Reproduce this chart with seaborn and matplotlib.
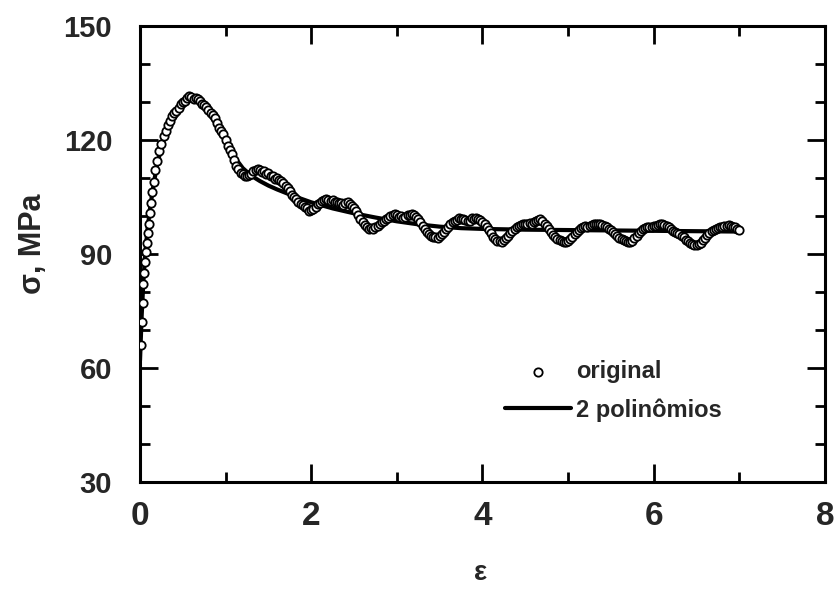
import matplotlib
matplotlib.use("Agg")
import matplotlib.pyplot as plt
from matplotlib.ticker import MultipleLocator
import seaborn as sns
import pandas as pd

# Flow curve: measured points (strain, stress in MPa)
strain_orig = [
    0.01, 0.02, 0.03, 0.04, 0.05, 0.06, 0.07, 0.08, 0.09, 0.10,
    0.115, 0.13, 0.145, 0.16, 0.18,
    0.200, 0.225, 0.250, 0.275, 0.300, 0.325, 0.350, 0.375, 0.400, 0.425,
    0.450, 0.475, 0.500, 0.525, 0.550, 0.575, 0.600, 0.625, 0.650, 0.675,
    0.700, 0.725, 0.750, 0.775, 0.800, 0.825, 0.850, 0.875, 0.900, 0.925,
    0.950, 0.975, 1.000, 1.025, 1.050, 1.075, 1.100, 1.125, 1.150, 1.175,
    1.200, 1.225, 1.250, 1.275, 1.300, 1.325, 1.350, 1.375, 1.400, 1.425,
    1.450, 1.475, 1.500, 1.525, 1.550, 1.575, 1.600, 1.625, 1.650, 1.675,
    1.700, 1.725, 1.750, 1.775, 1.800, 1.825, 1.850, 1.875, 1.900, 1.925,
    1.950, 1.975, 2.000, 2.025, 2.050, 2.075, 2.100, 2.125, 2.150, 2.175,
    2.200, 2.225, 2.250, 2.275, 2.300, 2.325, 2.350, 2.375, 2.400, 2.425,
    2.450, 2.475, 2.500, 2.525, 2.550, 2.575, 2.600, 2.625, 2.650, 2.675,
    2.700, 2.725, 2.750, 2.775, 2.800, 2.825, 2.850, 2.875, 2.900, 2.925,
    2.950, 2.975, 3.000, 3.025, 3.050, 3.075, 3.100, 3.125, 3.150, 3.175,
    3.200, 3.225, 3.250, 3.275, 3.300, 3.325, 3.350, 3.375, 3.400, 3.425,
    3.450, 3.475, 3.500, 3.525, 3.550, 3.575, 3.600, 3.625, 3.650, 3.675,
    3.700, 3.725, 3.750, 3.775, 3.800, 3.825, 3.850, 3.875, 3.900, 3.925,
    3.950, 3.975, 4.000, 4.025, 4.050, 4.075, 4.100, 4.125, 4.150, 4.175,
    4.200, 4.225, 4.250, 4.275, 4.300, 4.325, 4.350, 4.375, 4.400, 4.425,
    4.450, 4.475, 4.500, 4.525, 4.550, 4.575, 4.600, 4.625, 4.650, 4.675,
    4.700, 4.725, 4.750, 4.775, 4.800, 4.825, 4.850, 4.875, 4.900, 4.925,
    4.950, 4.975, 5.000, 5.025, 5.050, 5.075, 5.100, 5.125, 5.150, 5.175,
    5.200, 5.225, 5.250, 5.275, 5.300, 5.325, 5.350, 5.375, 5.400, 5.425,
    5.450, 5.475, 5.500, 5.525, 5.550, 5.575, 5.600, 5.625, 5.650, 5.675,
    5.700, 5.725, 5.750, 5.775, 5.800, 5.825, 5.850, 5.875, 5.900, 5.925,
    5.950, 5.975, 6.000, 6.025, 6.050, 6.075, 6.100, 6.125, 6.150, 6.175,
    6.200, 6.225, 6.250, 6.275, 6.300, 6.325, 6.350, 6.375, 6.400, 6.425,
    6.450, 6.475, 6.500, 6.525, 6.550, 6.575, 6.600, 6.625, 6.650, 6.675,
    6.700, 6.725, 6.750, 6.775, 6.800, 6.825, 6.850, 6.875, 6.900, 6.925,
    6.950, 6.975, 7.000,
]
stress_orig = [
    66.0, 72.0, 77.0, 82.0, 85.0, 88.0, 90.5, 93.0, 95.5, 98.0,
    100.8, 103.5, 106.3, 109.0, 112.0,
    114.5, 117.2, 119.0, 121.0, 122.5, 124.0, 125.0, 126.2, 127.0, 127.6,
    128.5, 129.5, 130.0, 130.3, 131.0, 131.5, 131.3, 130.9, 131.0, 130.8,
    130.3, 129.5, 129.2, 128.8, 128.0, 127.0, 126.5, 125.8, 124.5, 123.2,
    122.5, 121.5, 120.0, 118.5, 117.5, 116.4, 114.8, 113.2, 112.5, 111.4,
    111.0, 110.4, 110.5, 110.9, 111.0, 111.8, 112.0, 112.5, 112.2, 111.6,
    111.8, 111.0, 111.2, 110.4, 110.5, 109.8, 110.0, 109.6, 109.3, 108.8,
    108.0, 107.4, 106.5, 105.6, 105.0, 104.5, 103.8, 103.1, 102.8, 102.5,
    102.0, 101.4, 101.5, 101.9, 102.3, 103.1, 103.5, 104.0, 104.2, 104.5,
    104.3, 104.0, 104.2, 103.7, 103.8, 103.3, 103.5, 103.0, 103.4, 103.6,
    103.2, 102.6, 102.0, 101.2, 100.3, 99.3, 98.5, 97.6, 97.2, 96.7,
    96.8, 96.6, 97.0, 97.3, 97.8, 98.4, 98.8, 99.3, 99.6, 100.0,
    100.2, 100.5, 100.3, 99.8, 100.0, 99.6, 99.8, 100.3, 100.2, 100.6,
    100.3, 99.8, 99.2, 98.3, 97.5, 96.6, 95.8, 95.2, 94.8, 94.4,
    94.5, 94.3, 94.8, 95.2, 95.8, 96.5, 97.2, 97.9, 98.3, 98.8,
    99.0, 99.5, 99.3, 99.1, 99.0, 98.6, 98.8, 99.4, 99.2, 99.6,
    99.3, 99.0, 98.5, 97.9, 97.2, 96.3, 95.5, 94.6, 94.0, 93.5,
    93.3, 93.2, 93.6, 94.1, 94.8, 95.5, 96.0, 96.6, 97.0, 97.4,
    97.6, 97.8, 98.0, 97.8, 98.2, 98.0, 98.4, 98.8, 99.0, 99.1,
    98.6, 98.0, 97.3, 96.5, 95.8, 95.1, 94.5, 94.0, 93.6, 93.3,
    93.2, 93.1, 93.5, 94.0, 94.5, 95.2, 95.8, 96.3, 96.8, 97.0,
    97.3, 97.2, 97.5, 97.6, 97.8, 98.0, 97.9, 97.8, 97.6, 97.3,
    97.0, 96.6, 96.2, 95.7, 95.2, 94.7, 94.3, 93.9, 93.6, 93.3,
    93.2, 93.1, 93.5, 94.1, 94.8, 95.4, 96.0, 96.5, 96.8, 97.0,
    97.2, 97.1, 97.4, 97.5, 97.7, 97.9, 97.8, 97.6, 97.4, 97.0,
    96.6, 96.1, 95.8, 95.6, 95.2, 94.8, 94.4, 93.8, 93.3, 92.9,
    92.6, 92.3, 92.4, 92.6, 93.0, 93.6, 94.3, 95.0, 95.6, 96.0,
    96.3, 96.7, 96.9, 97.0, 97.2, 97.4, 97.5, 97.6, 97.3, 97.1,
    97.0, 96.7, 96.4,
]

# Fitted curve (two polynomials)
strain_fit = [0.0, 0.02, 0.04, 0.06, 0.09, 0.12, 0.16, 0.20, 0.25, 0.30,
              0.35, 0.40, 0.45, 0.50, 0.55, 0.60, 0.65, 0.70, 0.75, 0.80,
              0.85, 0.90, 0.95, 1.00, 1.10, 1.20, 1.30, 1.40, 1.50, 1.60,
              1.80, 2.00, 2.25, 2.50, 2.75, 3.00, 3.25, 3.50, 3.75, 4.00,
              4.50, 5.00, 5.50, 6.00, 6.50, 7.00]
stress_fit = [62.0, 74.0, 83.0, 90.0, 97.0, 102.5, 108.5, 113.5, 118.0, 121.8,
              124.5, 126.5, 128.3, 129.8, 130.8, 131.3, 131.2, 130.5, 129.3, 127.6,
              125.7, 123.6, 121.5, 119.4, 115.6, 112.6, 110.6, 109.2, 108.0, 107.0,
              105.2, 103.6, 102.0, 100.7, 99.6, 98.6, 97.8, 97.2, 96.8, 96.6,
              96.4, 96.3, 96.2, 96.1, 96.0, 95.9]

x_ticks = [0, 2, 4, 6, 8]
y_ticks = [30, 60, 90, 120, 150]

orig = pd.DataFrame({"strain": strain_orig, "stress": stress_orig})
fit = pd.DataFrame({"strain": strain_fit, "stress": stress_fit})

sns.set_theme(style="ticks")
plt.rcParams["font.family"] = ["Liberation Sans", "DejaVu Sans"]
plt.rcParams["font.weight"] = "bold"

fig = plt.figure(figsize=(8.37, 5.91), dpi=100)
ax = fig.add_axes([140 / 837, 1 - 482 / 591, 685 / 837, 456 / 591])

sns.lineplot(data=fit, x="strain", y="stress", ax=ax, color="black",
             linewidth=3.0, label="2 polinômios", sort=False, zorder=2)
sns.scatterplot(data=orig, x="strain", y="stress", ax=ax, marker="o",
                s=36, facecolor="white", edgecolor="black", linewidth=1.3,
                label="original", zorder=3)

ax.set_xlim(0, 8)
ax.set_ylim(30, 150)
ax.set_xticks(x_ticks)
ax.set_yticks(y_ticks)
ax.xaxis.set_minor_locator(MultipleLocator(1))
ax.yaxis.set_minor_locator(MultipleLocator(10))
ax.tick_params(which="both", direction="in", top=True, right=True,
               width=2.0, color="black")
ax.tick_params(which="major", length=13)
ax.tick_params(which="minor", length=7)
ax.tick_params(axis="y", which="major", pad=20, labelsize=21)
ax.tick_params(axis="x", which="major", pad=14, labelsize=24)
for lab in ax.get_xticklabels() + ax.get_yticklabels():
    lab.set_fontweight("bold")
for sp in ax.spines.values():
    sp.set_linewidth(2.2)
    sp.set_color("black")

ax.set_xlabel("ε", fontsize=20, fontweight="bold")
ax.set_ylabel("σ, MPa", fontsize=22, fontweight="bold")
ax.xaxis.set_label_coords(0.497, -0.172)
ax.yaxis.set_label_coords(-0.135, 0.522)

handles, labels = ax.get_legend_handles_labels()
order = [labels.index("original"), labels.index("2 polinômios")]
ax.legend([handles[i] for i in order], [labels[i] for i in order],
          loc="upper left", bbox_to_anchor=(0.533, 0.268), frameon=False,
          borderpad=0, borderaxespad=0, handlelength=2.8, handletextpad=0.2,
          labelspacing=0.65, prop={"size": 17, "weight": "bold"})

fig.savefig("out.png", dpi=100)
